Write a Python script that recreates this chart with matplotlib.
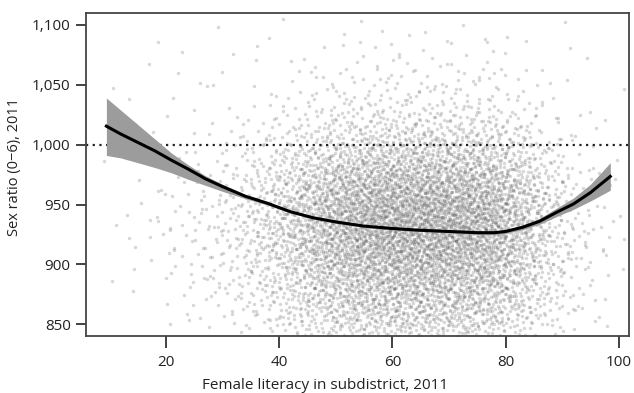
import matplotlib
matplotlib.use("Agg")
import matplotlib.pyplot as plt
from matplotlib.ticker import FuncFormatter
import numpy as np

plt.rcParams['font.family'] = ['Open Sans', 'DejaVu Sans']

# Scatter density: number of subdistricts per cell
# x cells: 5-10, 10-15, ..., 95-100 (female literacy)
cell_x_edges = [5, 10, 15, 20, 25, 30, 35, 40, 45, 50, 55, 60, 65, 70, 75, 80, 85, 90, 95, 100]
# y cells, top row first: 1080-1100 down to 840-860 (sex ratio)
cell_y_edges = [1100, 1080, 1060, 1040, 1020, 1000, 980, 960, 940, 920, 900, 880, 860, 840]
cell_counts = [
    [0, 0, 1, 0, 1, 1, 1, 1, 1, 2, 2, 2, 2, 2, 2, 1, 1, 1, 0],
    [0, 0, 1, 1, 1, 1, 1, 2, 3, 3, 4, 4, 4, 4, 3, 2, 1, 1, 0],
    [0, 1, 1, 1, 1, 1, 2, 3, 5, 7, 8, 8, 8, 8, 7, 4, 2, 1, 1],
    [0, 1, 1, 1, 1, 2, 4, 7, 11, 14, 16, 16, 16, 15, 14, 9, 4, 1, 1],
    [0, 1, 1, 1, 3, 4, 9, 15, 24, 31, 35, 36, 36, 34, 31, 20, 9, 3, 1],
    [0, 1, 1, 2, 5, 8, 16, 29, 45, 58, 66, 68, 68, 65, 58, 37, 17, 5, 2],
    [0, 1, 2, 4, 8, 13, 26, 46, 71, 93, 105, 108, 108, 103, 92, 59, 27, 9, 3],
    [0, 1, 3, 5, 10, 17, 33, 59, 91, 119, 134, 138, 138, 131, 117, 76, 35, 11, 4],
    [0, 1, 3, 5, 10, 17, 35, 62, 95, 124, 140, 144, 144, 137, 122, 79, 36, 12, 4],
    [0, 1, 3, 4, 9, 15, 31, 55, 84, 110, 124, 128, 128, 122, 109, 70, 32, 10, 4],
    [0, 1, 2, 3, 7, 12, 24, 43, 66, 86, 97, 100, 100, 95, 85, 55, 25, 8, 3],
    [0, 0, 1, 3, 5, 9, 18, 32, 50, 64, 73, 75, 75, 71, 64, 41, 19, 6, 2],
    [0, 0, 1, 2, 4, 6, 12, 22, 34, 45, 50, 52, 52, 49, 44, 29, 13, 4, 2],
]

# fitted curve and its confidence band
fit_x = [9.5, 12, 15, 18, 21, 24, 27, 30, 34, 38, 42, 46, 50, 55, 60, 65, 70, 75, 78, 80, 83, 86, 89, 92, 95, 98.5]
fit_y = [1015.5, 1009, 1002, 995, 987, 979.5, 971.5, 965, 957, 951, 944, 939, 935.5, 932, 930, 928.5,
         927.5, 926.5, 926.5, 927.5, 931, 936, 943.5, 950.5, 960, 973.5]
band_upper = [1039, 1029, 1017, 1005, 993, 983, 974, 967, 958.5, 952, 945, 940, 936.5, 933, 931, 929.5,
              928.5, 928, 928, 929, 933, 938.5, 947, 955.5, 967, 985]
band_lower = [991, 989, 985, 981, 976.5, 971, 966, 961, 955, 949.5, 943, 938, 934.5, 931, 929, 927.5,
              926.5, 925, 925, 926, 929, 933.5, 940, 946, 953, 962]

x_ticks = [20, 40, 60, 80, 100]
y_ticks = [850, 900, 950, 1000, 1050, 1100]


def radical_inverse(i, base):
    f, r = 1.0, 0.0
    while i > 0:
        f /= base
        r += f * (i % base)
        i //= base
    return r


def tent(u):
    # maps 0..1 onto -1..1 with a triangular profile, so neighbouring
    # cells add up smoothly instead of leaving edges
    return np.sqrt(2 * u) - 1 if u < 0.5 else 1 - np.sqrt(2 * (1 - u))


# place the points of each cell around its centre (Halton sequence, a
# different stretch of it for every cell)
pts_x, pts_y = [], []
for r, row in enumerate(cell_counts):
    y_hi, y_lo = cell_y_edges[r], cell_y_edges[r + 1]
    for c, n in enumerate(row):
        x_lo, x_hi = cell_x_edges[c], cell_x_edges[c + 1]
        start = (r * 19 + c) * 211 + 7
        for i in range(start, start + n):
            pts_x.append((x_lo + x_hi) / 2 + (x_hi - x_lo) * tent(radical_inverse(i, 2)))
            pts_y.append((y_lo + y_hi) / 2 + (y_hi - y_lo) * tent(radical_inverse(i, 3)))

fig = plt.figure(figsize=(6.34, 3.93), dpi=100)
ax = fig.add_axes([86 / 634, 1 - 336 / 393, 543 / 634, 323 / 393])

ax.scatter(pts_x, pts_y, s=6, marker='o', color='#4a4a4a', alpha=0.22, linewidths=0, zorder=1)
ax.axhline(1000, color='#222222', lw=1.6, linestyle=(0, (1.0, 2.0)), zorder=2)
ax.fill_between(fit_x, band_lower, band_upper, color='#9c9c9c', lw=0, zorder=3)
ax.plot(fit_x, fit_y, color='black', lw=2.2, zorder=4, solid_joinstyle='round')

ax.set_xlim(5.9, 101.8)
ax.set_ylim(840.2, 1110)
ax.set_xticks(x_ticks)
ax.set_yticks(y_ticks)
ax.yaxis.set_major_formatter(FuncFormatter(lambda v, p: f"{int(v):,}"))

for s in ax.spines.values():
    s.set_color('#444444')
    s.set_linewidth(1.3)
ax.tick_params(axis='both', colors='#333333', labelcolor='#222222', labelsize=11, width=1.3)
ax.tick_params(axis='y', length=7.5, pad=3.5)
ax.tick_params(axis='x', length=8.5, pad=5)

fig.text(15 / 634, 1 - 167 / 393, "Sex ratio (0\u22126), 2011", rotation=90, ha='center', va='center',
         fontsize=10.5, color='#222222')
fig.text(325 / 634, 1 - 389 / 393, "Female literacy in subdistrict, 2011", ha='center', va='baseline',
         fontsize=11, color='#222222')

fig.savefig("out.png", dpi=100)
